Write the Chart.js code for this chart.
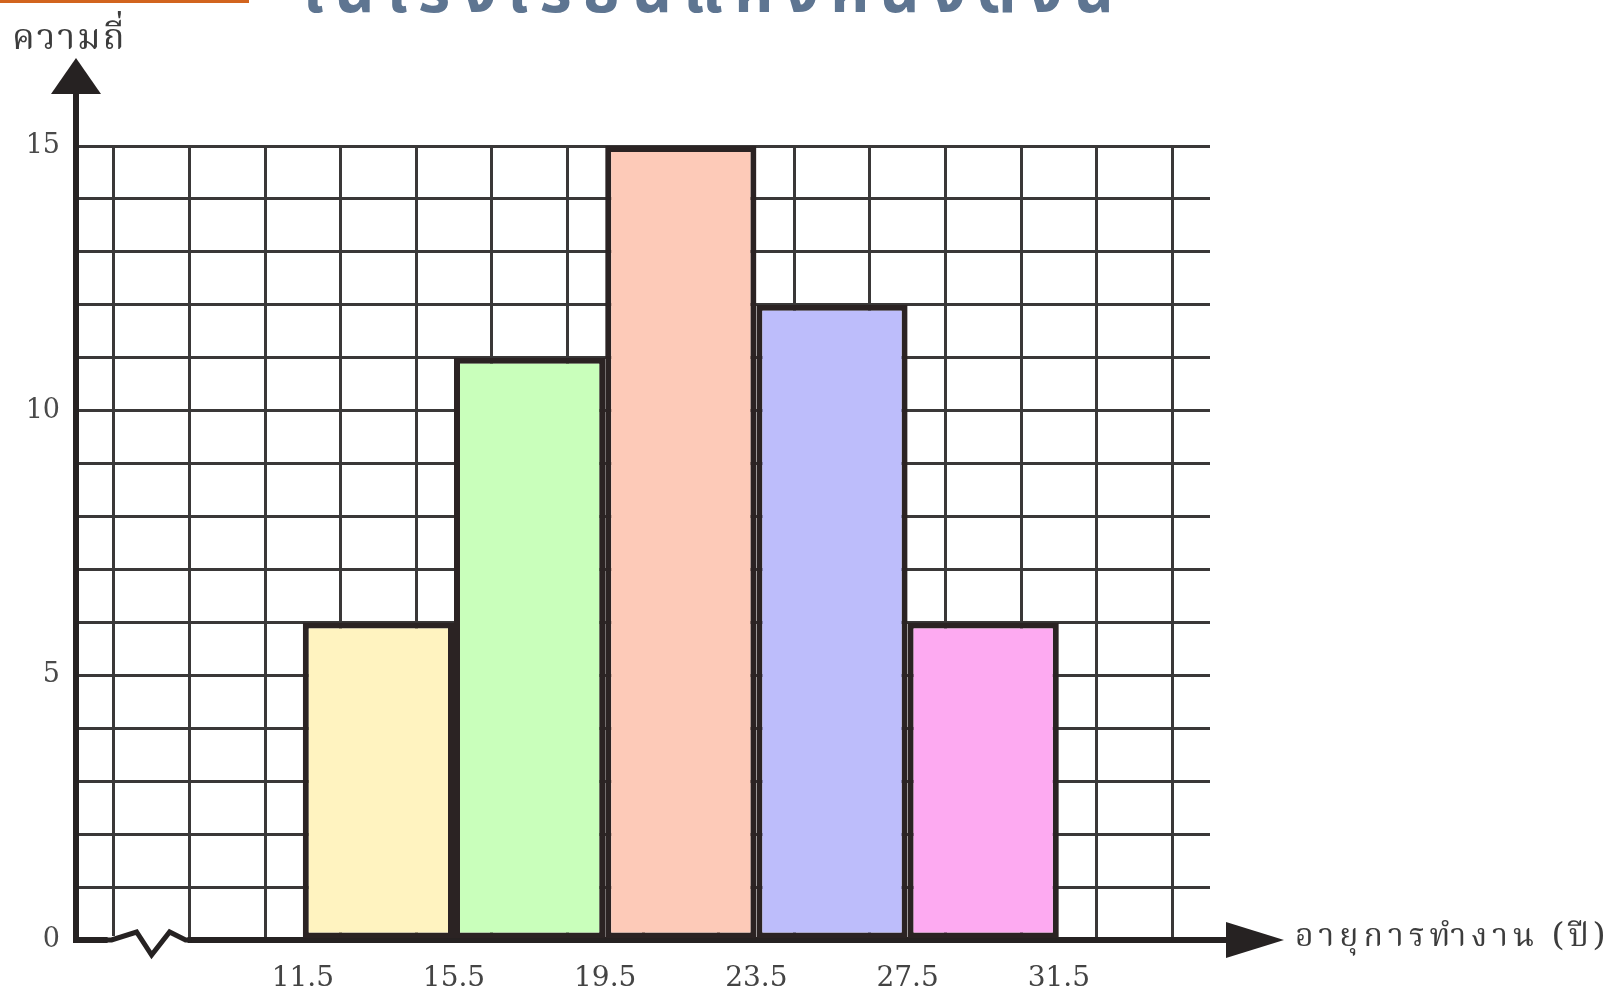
<!DOCTYPE html>
<html>
<head>
<meta charset="utf-8">
<script src="https://cdn.jsdelivr.net/npm/chart.js@4.4.1/dist/chart.umd.min.js"></script>
<style>
body{margin:0;background:#fff;overflow:hidden;}
#wrap{position:relative;width:1609px;height:991px;overflow:hidden;}
#chart{position:absolute;left:0;top:0;}
#topline{position:absolute;left:0;top:0;width:249px;height:3px;background:#d2641e;}
#title{position:absolute;left:303px;top:-38px;font-family:"Noto Sans Thai","Loma","Garuda","Noto Sans",sans-serif;font-weight:bold;font-size:62px;letter-spacing:11px;line-height:1;color:#5e7591;white-space:nowrap;}
.axname{position:absolute;font-family:"Noto Serif Thai","Norasi","Liberation Serif",serif;line-height:1;color:#3c3c3c;white-space:nowrap;}
#yname{left:12px;top:22px;font-size:36px;letter-spacing:2px;}
#xname{left:1295px;top:922px;font-size:32px;letter-spacing:5px;}
</style>
</head>
<body>
<div id="wrap">
<canvas id="chart" width="1609" height="991"></canvas>
<div id="topline"></div>
<div id="title">ในโรงเรียนแห่งหนึ่งดังนี้</div>
<div class="axname" id="yname">ความถี่</div>
<div class="axname" id="xname">อายุการทำงาน (ปี)</div>
</div>
<script>
// อายุการทำงาน (ปี): จุดกึ่งกลางชั้น / ความถี่
const classMid = [13.5, 17.5, 21.5, 25.5, 29.5];
const frequency = [6, 11, 15, 12, 6];
const barColors = ['#fff3c0', '#c9ffbb', '#fdcab8', '#bdbdfb', '#fdaaf1'];
const xTickLabels = [11.5, 15.5, 19.5, 23.5, 27.5, 31.5];
const yTickLabels = [0, 5, 10, 15];

const xMin = 5.5, xMax = 35.5, xStep = 2;
const yMin = 0, yMax = 15, yStep = 1;

let xGrid = [];
for(let v = xMin; v <= xMax; v += xStep){ xGrid.push(v); }
let yGrid = [];
for(let v = yMin; v <= yMax; v += yStep){ yGrid.push(v); }

// arrows + axis break
const axisDeco = {
    id: 'axisDeco',
    afterDraw(chart){
        const ctx = chart.ctx;
        const ca = chart.chartArea;
        const xs = chart.scales.x;
        const ys = chart.scales.y;
        const ax = xs.getPixelForValue(xMin);
        const ay = ys.getPixelForValue(0);
        ctx.save();
        ctx.strokeStyle = '#262222';
        ctx.fillStyle = '#262222';
        ctx.lineWidth = 6;
        // y axis up to arrow
        ctx.beginPath();
        ctx.moveTo(ax, ca.top + 2);
        ctx.lineTo(ax, ca.top - 54);
        ctx.stroke();
        ctx.beginPath();
        ctx.moveTo(ax, ca.top - 88);
        ctx.lineTo(ax - 25, ca.top - 52);
        ctx.lineTo(ax + 25, ca.top - 52);
        ctx.closePath();
        ctx.fill();
        // x axis to arrow
        ctx.beginPath();
        ctx.moveTo(ca.right - 2, ay);
        ctx.lineTo(ca.right + 20, ay);
        ctx.stroke();
        ctx.beginPath();
        ctx.moveTo(ca.right + 74, ay);
        ctx.lineTo(ca.right + 16, ay - 18);
        ctx.lineTo(ca.right + 16, ay + 18);
        ctx.closePath();
        ctx.fill();
        // break mark
        const bx = xs.getPixelForValue(xMin + xStep);
        ctx.fillStyle = '#fff';
        ctx.fillRect(bx - 44, ay - 4, 80, 8);
        ctx.lineWidth = 5;
        ctx.beginPath();
        ctx.moveTo(bx - 48, ay);
        ctx.lineTo(bx - 40, ay);
        ctx.lineTo(bx - 15, ay - 8);
        ctx.lineTo(bx, ay + 15);
        ctx.lineTo(bx + 18, ay - 8);
        ctx.lineTo(bx + 34, ay);
        ctx.lineTo(bx + 40, ay);
        ctx.stroke();
        ctx.restore();
    }
};

const ctx = document.getElementById('chart');

new Chart(ctx, {
    type: 'bar',
    data: {
        datasets: [{
            data: classMid.map((m, i) => ({x: m, y: frequency[i]})),
            backgroundColor: barColors,
            borderColor: '#2b2323',
            borderWidth: 6,
            borderSkipped: false,
            // grid ticks every 2 -> sample size is 2, class width is 4
            barPercentage: 2,
            categoryPercentage: 1
        }]
    },
    options: {
        responsive: false,
        animation: false,
        layout: {padding: {top: 146, right: 399, left: 0, bottom: 0}},
        plugins: {
            legend: {display: false},
            tooltip: {enabled: false}
        },
        scales: {
            x: {
                type: 'linear',
                min: xMin,
                max: xMax,
                offset: false,
                afterBuildTicks: s => { s.ticks = xGrid.map(v => ({value: v})); },
                afterFit: s => { s.height = 51; },
                grid: {color: '#3a3838', lineWidth: 3, drawTicks: false},
                border: {display: true, color: '#262222', width: 6},
                ticks: {
                    autoSkip: false,
                    maxRotation: 0,
                    padding: 22,
                    color: '#444',
                    font: {family: 'DejaVu Serif', size: 28},
                    callback: v => xTickLabels.includes(v) ? v.toFixed(1) : ''
                }
            },
            y: {
                min: yMin,
                max: yMax,
                afterBuildTicks: s => { s.ticks = yGrid.map(v => ({value: v})); },
                afterFit: s => { s.width = 76; },
                grid: {color: '#3a3838', lineWidth: 3, drawTicks: false},
                border: {display: true, color: '#262222', width: 6},
                ticks: {
                    autoSkip: false,
                    padding: 16,
                    color: '#4a4a4a',
                    font: {family: 'DejaVu Serif', size: 27},
                    callback: v => yTickLabels.includes(v) ? v : ''
                }
            }
        }
    },
    plugins: [axisDeco]
});
</script>
</body>
</html>
